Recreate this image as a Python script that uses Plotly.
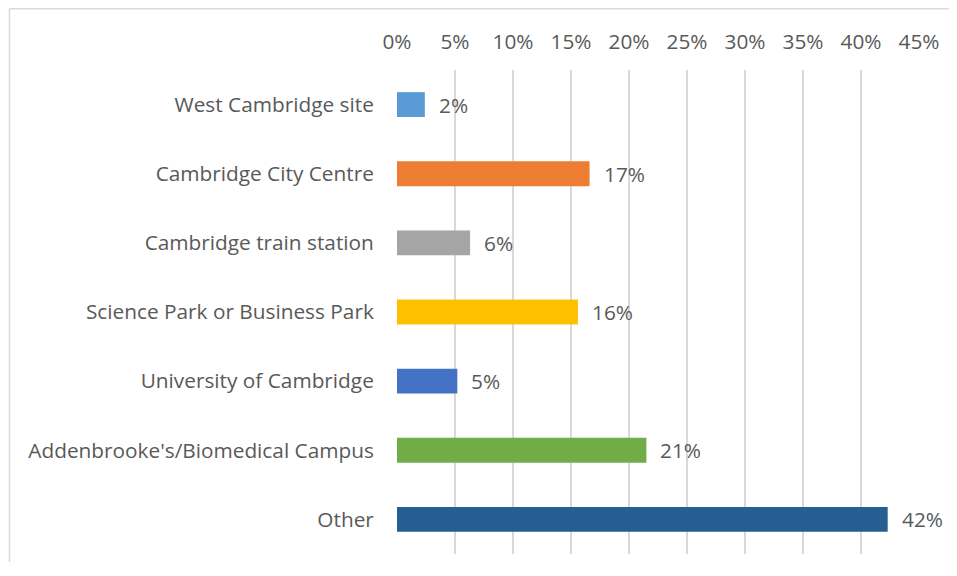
import plotly.graph_objects as go

# categories listed top to bottom as they appear
locations = ["West Cambridge site", "Cambridge City Centre", "Cambridge train station",
             "Science Park or Business Park", "University of Cambridge",
             "Addenbrooke's/Biomedical Campus", "Other"]
shares = [2.4, 16.6, 6.3, 15.6, 5.2, 21.5, 42.3]
share_labels = ["2%", "17%", "6%", "16%", "5%", "21%", "42%"]
bar_colors = ["#5B9BD5", "#ED7D31", "#A5A5A5", "#FFC000", "#4472C4", "#70AD47", "#255E91"]
tick_vals = [0, 5, 10, 15, 20, 25, 30, 35, 40, 45]
tick_text = ["0%", "5%", "10%", "15%", "20%", "25%", "30%", "35%", "40%", "45%"]

font_name = "Open Sans, Lato, sans-serif"
grey_txt = "#595959"
fsize = 20.8

# plot area in figure pixels (page body adds an 8px margin all round,
# so the figure is kept small enough not to trigger scrollbars)
L, T, W, H = 389, 62, 522, 484
FW, FH = 941, 554

fig = go.Figure(go.Bar(
    x=shares, y=locations, orientation="h",
    marker=dict(color=bar_colors, line=dict(width=0)),
    hoverinfo="skip",
))

# data labels just past the end of each bar
for loc, val, lab in zip(locations, shares, share_labels):
    fig.add_annotation(x=val, y=loc, text=lab, showarrow=False,
                       xanchor="left", xshift=12,
                       font=dict(family=font_name, size=fsize, color=grey_txt))

# outer chart border (top and left edges visible in the crop)
bx = (1.5 - L) / W
by = (T + H - 0.75) / H
fig.add_shape(type="line", xref="paper", yref="paper",
              x0=bx, x1=(FW - L) / W, y0=by, y1=by,
              line=dict(color="#d9d9d9", width=1.5))
fig.add_shape(type="line", xref="paper", yref="paper",
              x0=bx, x1=bx, y0=by, y1=-(FH - T - H) / H,
              line=dict(color="#d9d9d9", width=1.5))

fig.update_layout(
    width=FW, height=FH,
    margin=dict(l=L, r=FW - L - W, t=T, b=FH - T - H),
    paper_bgcolor="white", plot_bgcolor="white",
    bargap=0.64,
    showlegend=False,
    font=dict(family=font_name, size=fsize, color=grey_txt),
    xaxis=dict(range=[0, 45], side="top", tickvals=tick_vals, ticktext=tick_text,
               showgrid=True, gridcolor="#d9d9d9", gridwidth=1.5,
               zeroline=False, showline=False,
               ticks="outside", ticklen=12, tickcolor="rgba(0,0,0,0)",
               tickfont=dict(size=fsize, color=grey_txt), fixedrange=True),
    yaxis=dict(autorange="reversed", showgrid=False, zeroline=False, showline=False,
               ticks="outside", ticklen=18, tickcolor="rgba(0,0,0,0)",
               tickfont=dict(size=fsize, color=grey_txt), fixedrange=True),
)

fig.write_html("out.html", config={"displayModeBar": False})
